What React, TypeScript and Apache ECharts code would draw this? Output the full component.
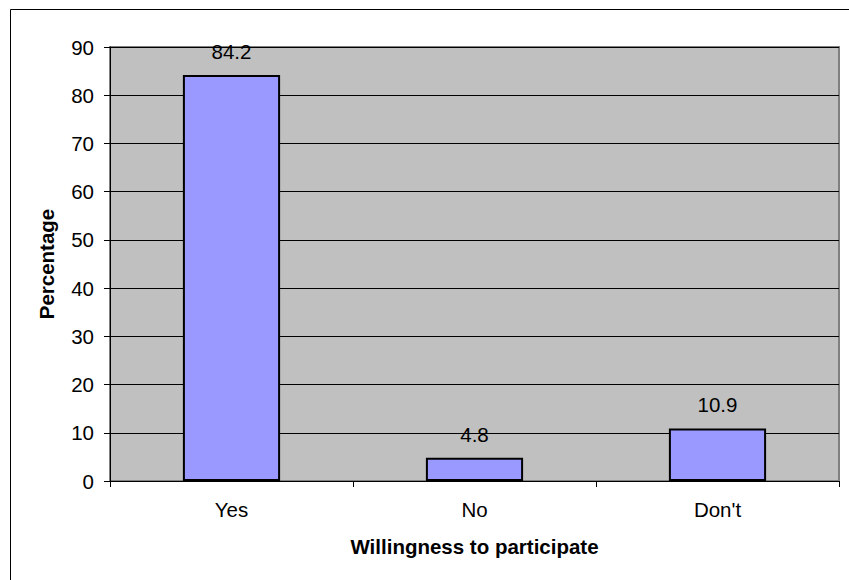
import React, { useEffect, useRef } from "react";
import * as echarts from "echarts";

const categories = ["Yes", "No", "Don't"];
const values = [84.2, 4.8, 10.9];
const yTicks = { min: 0, max: 90, interval: 10 };
const xName = "Willingness to participate";
const yName = "Percentage";

export default function App() {
  const ref = useRef<HTMLDivElement>(null);
  useEffect(() => {
    const chart = echarts.init(ref.current!, null, { renderer: "svg" });
    const font = "'Liberation Sans', Arial, sans-serif";
    const fs = 20.5;
    chart.setOption({
      animation: false,
      backgroundColor: "#ffffff",
      textStyle: { fontFamily: font },
      graphic: [
        { type: "line", shape: { x1: 10.5, y1: 9.5, x2: 849, y2: 9.5 }, style: { stroke: "#000", lineWidth: 1 } },
        { type: "line", shape: { x1: 10.5, y1: 9.5, x2: 10.5, y2: 580 }, style: { stroke: "#000", lineWidth: 1 } },
      ],
      grid: {
        left: 110,
        top: 47,
        right: 10,
        bottom: 99,
        show: true,
        backgroundColor: "#C0C0C0",
        borderColor: "#808080",
        borderWidth: 2,
      },
      xAxis: {
        type: "category",
        data: categories,
        name: xName,
        nameLocation: "middle",
        nameGap: 55,
        nameTextStyle: { fontSize: fs, fontWeight: "bold", color: "#000", fontFamily: font },
        axisLine: { show: true, lineStyle: { color: "#000", width: 1 } },
        axisTick: { show: true, alignWithLabel: false, length: 6, lineStyle: { color: "#000" } },
        axisLabel: { fontSize: fs, color: "#000", margin: 18, fontFamily: font },
        splitLine: { show: false },
      },
      yAxis: {
        type: "value",
        min: yTicks.min,
        max: yTicks.max,
        interval: yTicks.interval,
        name: yName,
        nameLocation: "middle",
        nameGap: 53,
        nameTextStyle: { fontSize: fs, fontWeight: "bold", color: "#000", fontFamily: font },
        axisLine: { show: true, lineStyle: { color: "#000", width: 1 } },
        axisTick: { show: true, length: 6, lineStyle: { color: "#000" } },
        axisLabel: { fontSize: fs, color: "#000", margin: 16, fontFamily: font },
        splitLine: { show: true, lineStyle: { color: "#000", width: 1 } },
      },
      series: [
        {
          type: "bar",
          data: values,
          barWidth: "40%",
          itemStyle: { color: "#9999FF", borderColor: "#000", borderWidth: 2 },
          label: {
            show: true,
            position: "top",
            distance: 13,
            fontSize: fs,
            color: "#000",
            fontFamily: font,
          },
        },
      ],
    });
    return () => chart.dispose();
  }, []);
  return (
    <div
      ref={ref}
      style={{ position: "fixed", left: 0, top: 0, width: 849, height: 580 }}
    />
  );
}
